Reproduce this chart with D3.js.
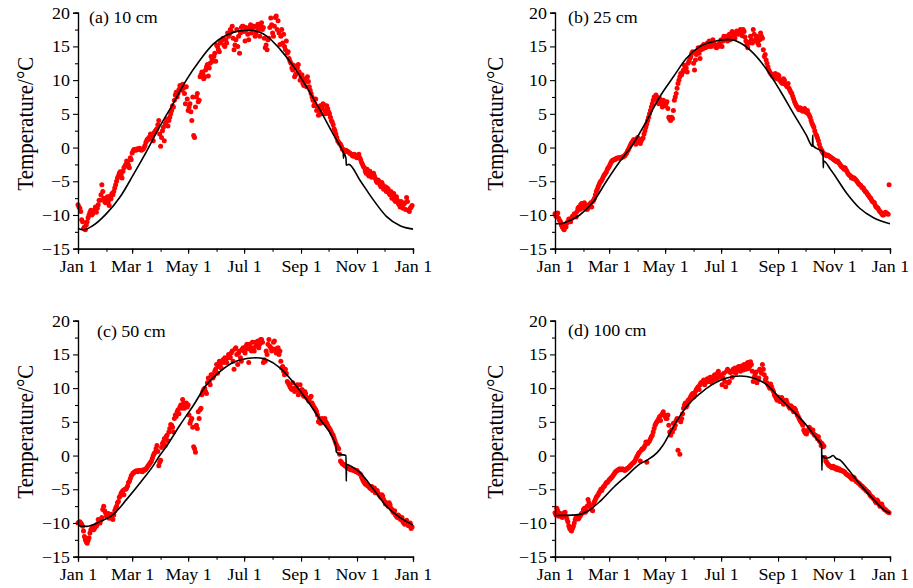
<!DOCTYPE html>
<html><head><meta charset="utf-8">
<script src="https://cdn.jsdelivr.net/npm/d3@7"></script>
<style>body{margin:0;background:#fff} svg{display:block} text{font-family:"Liberation Serif","Times New Roman",serif;fill:#000}</style>
</head><body><svg id="c" width="913" height="588"></svg>
<script>
// observation days: even days and odd days of the year
const daysEven = d3.range(0, 365, 2);
const daysOdd = d3.range(1, 365, 2);

const scatterA = [
-8.5,-9.0,-10.7,-12.0,-12.2,-11.0,-10.0,-9.3,-9.8,-9.2,
-9.6,-8.5,-7.8,-5.5,-7.5,-8.2,-7.3,-8.6,-7.6,-7.0,
-6.0,-5.0,-4.2,-3.6,-4.5,-3.0,-2.5,-2.2,-3.0,-1.8,
-0.5,-0.3,-0.2,-0.3,-0.2,-0.3,0.0,0.8,1.3,1.6,
1.4,1.0,2.4,2.8,4.0,0.2,2.5,1.0,3.8,3.2,
4.5,5.5,6.0,7.8,7.5,8.6,9.0,9.4,8.0,9.0,
5.5,6.5,4.0,1.8,6.0,8.0,7.0,10.8,11.0,10.5,
12.0,10.6,12.5,13.0,13.5,12.8,15.0,14.2,15.8,16.2,
15.0,15.5,16.5,17.5,18.0,14.5,16.0,15.0,14.0,17.8,
18.0,15.8,17.5,16.0,18.2,17.5,18.0,17.0,18.3,16.5,
18.5,17.8,14.8,14.5,16.2,19.2,17.0,18.0,19.5,18.8,
15.3,17.5,16.8,14.5,14.0,13.2,12.5,11.5,10.5,11.0,
12.3,10.0,10.8,9.2,9.8,10.5,9.0,8.0,7.0,6.5,
5.5,4.8,6.2,5.8,6.3,5.0,5.8,5.0,4.0,3.4,
2.5,1.5,0.8,0.5,-0.2,-0.5,-0.4,-0.6,-0.8,-1.0,
-1.3,-1.1,-1.5,-1.0,-1.8,-2.5,-3.0,-3.8,-4.0,-3.5,
-4.4,-3.8,-4.6,-5.2,-5.0,-5.8,-5.5,-6.0,-6.5,-6.2,
-7.0,-7.5,-6.8,-8.0,-7.8,-8.5,-8.0,-9.0,-8.2,-7.4,
-9.3,-9.0,-8.6];
const scatterA2 = [
-8.8,-9.5,-11.0,-11.8,-11.5,-10.4,-9.6,-10.0,-9.5,-8.8,
-9.0,-7.8,-7.0,-6.5,-8.0,-7.5,-8.0,-7.2,-6.8,-6.5,
-5.5,-4.5,-3.8,-4.0,-3.5,-2.8,-2.0,-2.6,-1.5,-0.8,
-0.3,-0.4,-0.2,-0.1,-0.4,-0.2,0.3,1.1,1.2,2.0,
1.8,2.2,2.6,3.4,2.0,1.5,3.0,3.5,4.2,4.0,
5.0,6.2,7.0,8.2,8.0,9.2,8.5,8.8,6.5,7.2,
6.0,5.3,7.5,1.5,7.5,6.8,10.5,11.2,10.2,11.5,
12.3,11.8,13.5,12.8,14.0,15.2,14.5,15.5,16.0,15.2,
16.0,17.0,16.8,17.2,16.2,15.2,17.5,16.5,17.0,18.0,
17.2,17.8,16.8,17.8,17.0,18.0,16.5,17.8,17.5,18.0,
17.5,16.2,15.2,16.0,17.8,18.2,16.5,19.3,17.5,17.0,
16.5,15.5,15.0,15.8,14.2,12.8,11.8,12.2,10.8,11.8,
11.2,10.5,9.5,10.2,9.0,9.8,8.5,7.5,6.2,7.2,
6.0,5.5,5.0,6.5,5.5,6.2,5.3,4.5,3.8,2.8,
2.0,1.0,0.6,0.2,-0.3,-0.6,-0.5,-0.7,-0.9,-1.2,
-1.0,-1.4,-1.2,-1.5,-2.2,-2.8,-3.5,-3.2,-4.2,-3.9,
-4.0,-4.2,-5.0,-4.8,-5.5,-5.2,-6.2,-5.8,-6.0,-6.8,
-6.5,-7.2,-7.8,-7.3,-8.3,-8.8,-8.6,-8.4,-9.2,-8.0,
-9.5,-8.8];

const scatterB = [
-9.8,-10.0,-10.5,-11.0,-11.8,-12.2,-11.8,-11.0,-10.8,-10.5,
-10.2,-10.0,-9.5,-8.8,-8.5,-9.0,-8.2,-8.6,-9.0,-8.4,
-8.8,-7.8,-7.0,-6.2,-5.5,-5.0,-4.5,-4.0,-3.6,-3.0,
-2.5,-2.0,-1.8,-1.7,-1.6,-1.5,-1.5,-1.4,-1.2,-0.8,
-0.3,0.3,0.8,1.2,0.5,1.5,0.8,1.0,1.4,2.5,
3.5,4.5,5.5,6.5,7.5,7.8,6.8,7.3,6.5,7.0,
6.2,6.8,4.5,4.0,4.3,7.0,8.0,9.5,10.5,10.8,
11.5,12.0,11.2,12.8,13.5,14.2,11.5,13.8,14.8,13.2,
15.0,15.3,14.8,15.5,15.8,15.0,16.0,15.2,14.8,15.0,
15.5,15.0,16.5,16.2,15.8,16.8,16.5,17.0,16.2,17.3,
16.8,17.5,16.6,17.2,15.8,14.8,15.5,16.0,17.5,15.8,
16.5,15.2,17.0,16.2,13.5,13.0,12.0,11.2,10.8,10.5,
11.0,10.2,10.6,9.8,9.5,10.0,9.2,9.5,8.5,8.0,
7.2,6.5,6.0,5.6,5.8,5.4,5.8,5.2,5.0,4.5,
3.6,3.0,2.0,1.4,0.5,-0.3,-0.8,-1.0,-1.2,-1.2,
-1.4,-1.6,-1.8,-2.0,-2.0,-2.4,-2.8,-3.0,-3.0,-3.5,
-4.0,-4.2,-4.4,-4.5,-4.8,-5.2,-5.5,-5.8,-6.0,-6.5,
-6.8,-7.2,-7.5,-8.0,-8.2,-8.8,-9.0,-9.5,-9.8,-10.0,
-9.6,-9.8,-5.5];
const scatterB2 = [
-10.2,-9.7,-10.8,-11.5,-12.0,-11.5,-11.2,-10.6,-11.0,-10.2,
-9.8,-10.3,-9.0,-9.2,-8.3,-8.6,-8.8,-9.2,-8.5,-8.2,
-8.0,-7.5,-6.5,-5.8,-5.2,-4.8,-4.2,-3.8,-3.2,-2.8,
-2.2,-1.9,-1.8,-1.6,-1.5,-1.6,-1.4,-1.3,-1.0,-0.5,
0.0,0.6,1.0,0.7,1.0,1.2,0.6,1.3,2.0,3.0,
4.0,5.0,6.0,7.0,7.2,7.5,6.5,6.8,6.0,6.8,
6.5,5.8,4.2,4.5,5.5,7.5,8.8,10.0,11.0,11.2,
12.2,11.8,12.5,13.2,14.0,12.5,13.0,14.3,14.0,14.5,
14.6,15.0,15.2,15.0,15.3,15.6,15.5,14.9,15.2,15.4,
16.0,15.8,16.0,16.5,16.4,16.0,17.2,16.5,16.8,17.0,
17.2,16.9,17.5,16.4,15.2,15.6,16.5,15.5,16.8,16.2,
15.5,16.0,16.5,14.5,13.8,12.5,11.5,11.0,10.6,10.8,
10.3,10.8,10.0,9.6,10.2,9.4,9.0,8.8,8.2,7.6,
6.8,6.2,5.8,5.9,5.5,5.6,5.3,5.5,4.8,4.0,
3.3,2.5,1.8,1.0,0.0,-0.5,-0.9,-1.1,-1.1,-1.3,
-1.5,-1.7,-1.9,-2.1,-2.2,-2.6,-2.9,-3.2,-3.3,-3.8,
-4.1,-4.5,-4.6,-4.7,-5.0,-5.4,-5.6,-6.0,-6.3,-6.6,
-7.0,-7.4,-7.8,-8.1,-8.6,-8.9,-9.3,-9.6,-10.0,-9.8,
-9.7,-9.9];

const scatterC = [
-10.0,-9.8,-10.2,-11.2,-12.5,-13.0,-12.2,-11.0,-10.6,-10.8,
-10.5,-9.5,-10.0,-9.2,-7.5,-8.5,-9.0,-9.3,-8.7,-9.5,
-8.2,-7.5,-6.8,-6.0,-5.4,-5.8,-5.0,-4.5,-3.8,-3.0,
-2.6,-2.4,-2.3,-2.2,-2.3,-2.4,-2.2,-2.0,-1.6,-1.2,
-0.8,0.0,0.5,1.5,-1.5,-0.7,1.8,2.5,2.8,2.2,
4.0,4.5,3.5,6.0,6.5,6.2,7.5,8.3,7.0,7.8,
7.5,4.8,5.5,1.3,0.5,4.0,5.5,7.0,9.5,10.0,
9.2,11.5,10.5,12.0,11.8,12.8,12.2,14.0,13.0,14.2,
14.5,13.8,15.0,14.5,15.5,12.8,16.0,13.5,15.5,14.0,
16.0,15.2,16.5,13.8,16.0,16.8,15.5,16.2,17.0,16.5,
17.2,13.8,14.0,15.0,17.2,16.0,15.8,17.0,15.2,16.0,
15.5,13.0,12.5,12.8,11.0,10.5,10.0,10.8,9.5,10.2,
9.0,10.5,9.8,8.8,9.2,8.5,8.0,8.8,7.5,7.0,
6.5,5.0,4.8,5.5,5.3,5.0,4.5,4.0,3.5,3.0,
2.2,1.5,1.0,-0.8,-1.2,-1.4,-1.6,-1.8,-2.0,-2.0,
-2.2,-2.3,-2.2,-2.6,-2.8,-3.5,-4.0,-4.3,-4.5,-4.8,
-4.6,-5.0,-5.5,-5.2,-5.8,-6.2,-6.0,-6.8,-7.0,-7.5,
-7.3,-8.0,-8.5,-8.8,-9.2,-9.0,-9.5,-9.8,-10.2,-9.6,
-10.4,-10.0,-10.6];
const scatterC2 = [
-9.9,-10.0,-10.5,-12.0,-12.8,-12.6,-11.5,-10.8,-11.0,-10.4,
-10.2,-9.8,-9.6,-8.0,-8.2,-9.0,-8.6,-9.0,-9.2,-8.8,
-7.8,-7.0,-6.2,-5.6,-5.2,-5.0,-4.8,-4.0,-3.4,-2.8,
-2.5,-2.3,-2.4,-2.2,-2.3,-2.1,-2.1,-1.8,-1.4,-1.0,
-0.4,0.3,1.0,0.6,-1.0,1.2,2.0,1.5,3.0,3.5,
4.6,4.2,5.5,5.8,6.8,7.2,7.0,7.8,7.5,7.2,
6.0,5.2,4.2,1.0,4.5,6.5,6.8,9.0,9.8,9.5,
10.8,11.0,12.0,11.5,12.5,13.5,13.2,13.5,14.0,13.8,
14.0,14.5,14.8,15.2,14.0,15.8,15.0,15.2,14.5,15.8,
15.5,16.2,15.8,16.5,15.5,16.0,16.8,16.5,16.0,17.2,
16.8,14.2,15.5,16.5,16.2,15.5,16.8,15.8,15.5,15.0,
14.0,13.2,12.0,12.2,10.8,10.2,9.8,10.0,9.8,10.5,
9.6,9.4,9.0,9.5,8.6,8.2,8.6,7.8,7.2,6.8,
6.0,5.5,5.2,4.9,5.5,4.8,4.2,3.8,3.2,2.6,
1.8,1.2,0.2,-1.0,-1.3,-1.5,-1.7,-1.9,-2.1,-2.1,
-2.1,-2.4,-2.5,-2.7,-3.2,-3.8,-4.2,-4.4,-4.6,-4.9,
-5.2,-4.8,-5.3,-5.6,-6.0,-5.8,-6.5,-7.2,-7.3,-7.0,
-7.8,-8.3,-8.2,-9.0,-8.8,-9.4,-9.2,-10.0,-9.8,-10.1,
-10.2,-10.8];

const scatterD = [
-8.5,-7.8,-9.0,-8.6,-9.2,-8.5,-9.0,-9.8,-10.8,-11.2,
-10.5,-9.5,-9.0,-9.3,-8.8,-8.5,-7.8,-8.2,-6.5,-7.5,
-8.0,-7.2,-6.5,-6.0,-5.5,-5.0,-4.8,-4.5,-4.0,-3.8,
-3.5,-3.2,-2.8,-2.4,-2.2,-2.0,-2.1,-2.0,-2.2,-2.0,
-1.8,-1.5,-1.2,-1.0,-0.5,0.0,0.5,0.8,1.0,1.5,
-1.0,2.0,2.5,3.0,4.0,4.8,5.2,5.8,6.0,6.5,
5.8,5.5,4.5,3.0,3.5,4.0,5.2,0.8,0.2,5.5,
7.0,7.8,7.5,8.0,8.8,9.2,9.0,9.8,10.2,10.5,
10.8,11.2,10.8,11.4,11.0,11.5,11.2,12.0,11.5,12.5,
11.8,10.5,12.2,10.2,12.8,11.0,12.5,12.8,13.0,12.6,
13.2,12.5,13.0,13.5,12.8,13.8,13.2,13.5,11.0,12.0,
10.8,11.5,12.5,13.5,12.0,11.5,10.5,10.0,10.2,9.5,
8.8,8.2,8.5,8.0,8.3,7.8,8.2,7.5,7.0,7.2,
6.5,6.8,6.0,5.5,5.0,4.5,3.5,3.2,3.8,4.0,
3.5,3.2,3.0,2.5,2.2,1.5,1.3,-0.3,-1.0,-1.4,
-1.6,-1.8,-1.7,-2.0,-2.1,-2.0,-2.2,-2.3,-2.5,-2.8,
-3.0,-3.2,-3.5,-3.3,-3.8,-4.0,-4.2,-4.5,-4.8,-5.0,
-5.3,-5.5,-6.0,-6.2,-6.5,-7.0,-6.8,-7.5,-7.2,-7.8,
-8.0,-8.3,-8.5];
const scatterD2 = [
-8.8,-8.2,-8.7,-9.0,-8.8,-8.4,-9.4,-10.4,-11.0,-10.8,
-10.0,-9.2,-9.4,-9.0,-8.6,-8.0,-8.4,-7.5,-7.0,-7.8,
-8.2,-6.8,-6.2,-5.8,-5.3,-5.2,-4.6,-4.2,-4.0,-3.6,
-3.3,-3.0,-2.6,-2.3,-2.1,-2.0,-2.0,-2.1,-2.1,-1.9,
-1.7,-1.4,-1.1,-0.8,-0.2,0.3,-0.8,1.0,1.2,2.0,
1.8,2.2,2.8,3.5,4.5,5.0,5.5,5.2,6.2,6.0,
5.5,6.0,3.5,3.8,4.8,4.5,5.5,5.3,5.0,6.2,
7.5,7.2,8.2,8.5,9.0,8.7,9.5,10.0,9.8,10.8,
11.0,10.5,11.2,11.0,11.6,10.8,11.8,11.3,12.2,11.6,
12.0,11.5,11.0,12.5,10.8,12.3,11.6,12.4,12.2,13.0,
12.8,13.3,12.7,13.0,13.6,12.9,13.9,12.5,11.6,12.4,
11.2,12.8,12.2,12.8,11.2,10.8,10.3,10.6,9.8,9.0,
8.5,8.7,8.0,8.6,7.6,8.0,7.8,7.2,7.4,6.8,
7.0,6.4,5.8,5.2,4.8,3.8,3.3,3.6,4.2,3.8,
3.8,3.0,2.8,2.8,2.0,1.8,1.4,-0.8,-1.2,-1.5,
-1.7,-1.6,-1.9,-1.8,-2.0,-2.2,-2.3,-2.4,-2.7,-2.9,
-3.1,-3.4,-3.2,-3.6,-3.9,-4.1,-4.4,-4.6,-4.9,-5.2,
-5.4,-5.8,-6.1,-6.4,-6.8,-6.6,-7.2,-7.3,-7.6,-8.0,
-8.2,-8.4];

// simulated curves: [day, temperature]
const lineA = [[0,-12.0],[6,-12.2],[16,-11.6],[31,-9.8],[46,-7.3],[60,-4.1],[75,-0.5],[89,3.1],[104,6.6],[118,10.0],[133,13.0],[147,15.3],[162,16.7],[176,17.3],[187,17.4],[198,17.1],[206,16.5],[220,14.6],[235,12.0],[249,9.0],[264,5.5],[278,2.0],[288,-0.4],[289,-0.7],[289.3,-1.6],[289.6,-0.9],[292,-1.6],[292.3,-2.6],[295,-2.5],[307,-4.8],[322,-7.8],[336,-10.2],[351,-11.6],[365,-12.1]];
const lineB = [[0,-11.3],[5,-11.3],[13,-11.0],[27,-10.0],[42,-8.0],[56,-5.0],[71,-2.0],[85,0.5],[100,4.0],[114,7.5],[129,10.5],[143,13.2],[158,15.0],[172,15.7],[187,16.0],[191,16.0],[202,15.5],[216,14.0],[231,11.5],[245,8.5],[260,5.0],[274,1.8],[280.5,0.2],[280.8,1.8],[281.1,0.3],[286,-0.2],[292,-0.6],[292.3,-3.0],[292.6,-2.0],[300,-3.2],[318,-6.8],[332,-9.0],[347,-10.4],[365,-11.3]];
const lineC = [[0,-10.4],[9,-10.5],[24,-9.8],[38,-8.8],[53,-6.5],[68,-4.0],[82,-1.5],[89,0.0],[97,1.5],[111,4.5],[126,7.5],[140,10.5],[155,12.5],[169,13.8],[184,14.4],[195,14.5],[206,14.2],[220,13.0],[235,10.8],[249,8.3],[264,5.3],[278,2.5],[281,1.4],[281.3,0.6],[285,0.2],[292,0.0],[292.3,-3.8],[292.6,-1.3],[300,-1.8],[307,-2.5],[322,-5.0],[336,-7.5],[351,-9.2],[365,-10.3]];
const lineD = [[0,-8.9],[2,-8.9],[24,-8.8],[35,-8.3],[49,-6.8],[64,-4.7],[78,-3.0],[93,-1.2],[100,-0.7],[111,0.4],[118,1.6],[129,4.3],[143,7.2],[158,9.2],[172,10.6],[187,11.5],[202,11.8],[216,11.5],[231,10.5],[245,8.5],[260,6.5],[274,4.5],[285,2.5],[290.5,1.5],[290.8,-2.2],[291.1,0.0],[295,-0.4],[299,-0.3],[303,0.0],[306,-0.4],[311,-0.7],[318,-1.8],[332,-4.2],[347,-6.5],[361,-8.3],[365,-8.5]];

const monthTicks = [0,31,59,90,120,151,181,212,243,273,304,334,365];
const monthMajor = [0,59,120,181,243,304,365];
const monthLabels = ["Jan 1","Mar 1","May 1","Jul 1","Sep 1","Nov 1","Jan 1"];
const yTicks = [-15,-10,-5,0,5,10,15,20];
const yMinor = [-12.5,-7.5,-2.5,2.5,7.5,12.5,17.5];
const titles = ["(a) 10 cm","(b) 25 cm","(c) 50 cm","(d) 100 cm"];
const yTitle = "Temperature/\u00B0C";

const W = 335, H = 236, SX = 1.12;
const panels = [
  {left:78,  top:12.7,  sc:scatterA, sc2:scatterA2, ln:lineA, title:titles[0], tx:89,  ty:23,  lx:33},
  {left:555, top:12.7,  sc:scatterB, sc2:scatterB2, ln:lineB, title:titles[1], tx:568, ty:23,  lx:503},
  {left:78,  top:320.7, sc:scatterC, sc2:scatterC2, ln:lineC, title:titles[2], tx:97,  ty:337, lx:33},
  {left:555, top:320.7, sc:scatterD, sc2:scatterD2, ln:lineD, title:titles[3], tx:568, ty:336, lx:503}
];

const svg = d3.select("#c");
const x = d3.scaleLinear().domain([0,365]).range([0,W]);
const y = d3.scaleLinear().domain([-15,20]).range([H,0]);
const lineGen = d3.line().x(d=>x(d[0])).y(d=>y(d[1])).curve(d3.curveMonotoneX);

panels.forEach(p => {
  const g = svg.append("g").attr("transform",`translate(${p.left},${p.top})`);

  const pts = daysEven.map((d,i)=>[d,p.sc[i]]).concat(daysOdd.map((d,i)=>[d,p.sc2[i]]));
  g.append("g").selectAll("circle").data(pts).join("circle")
    .attr("cx",d=>x(d[0])).attr("cy",d=>y(d[1])).attr("r",2.5).attr("fill","#ff0000");

  g.append("path").datum(p.ln).attr("d",lineGen).attr("fill","none")
    .attr("stroke","#000").attr("stroke-width",1.6);

  g.append("g").attr("transform",`translate(0,${H})`)
    .call(d3.axisBottom(x).tickValues(monthTicks).tickSize(3).tickFormat(""));
  const xMaj = g.append("g").attr("transform",`translate(0,${H})`)
    .call(d3.axisBottom(x).tickValues(monthMajor).tickSize(5).tickFormat((d,i)=>monthLabels[i]));
  xMaj.selectAll("text").attr("y",23).attr("dy",0).attr("font-size",16)
    .attr("transform",`scale(${SX},1)`);

  g.append("g").call(d3.axisLeft(y).tickValues(yMinor).tickSize(3).tickFormat(""));
  const yMaj = g.append("g").call(d3.axisLeft(y).tickValues(yTicks).tickSize(5));
  yMaj.selectAll("text").attr("x",-8/SX).attr("dy","0.34em").attr("font-size",16)
    .attr("transform",`scale(${SX},1)`);

  g.selectAll(".domain").attr("stroke","#000").attr("stroke-width",1.2);
  g.selectAll(".tick line").attr("stroke","#000").attr("stroke-width",1.1);
  g.selectAll("text").attr("font-family",null).style("font-family",'"Liberation Serif","Times New Roman",serif');

  svg.append("text").attr("transform",`translate(${p.tx},${p.ty}) scale(${SX},1)`)
    .attr("font-size",16).text(p.title);

  svg.append("text").attr("transform",`translate(${p.lx},${p.top + H/2 - 7}) scale(${SX},1) rotate(-90)`)
    .attr("text-anchor","middle").attr("font-size",21).text(yTitle);
});
</script>
</body></html>
